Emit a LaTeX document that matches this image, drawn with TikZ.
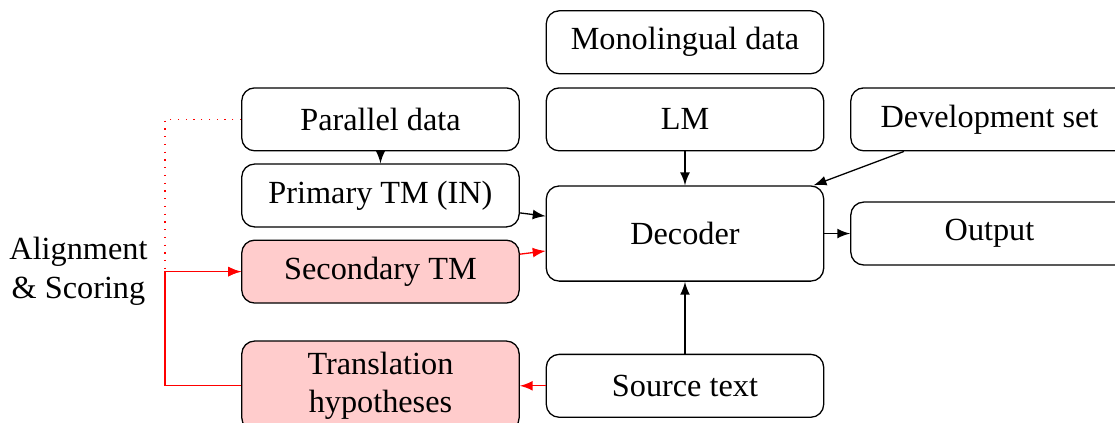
\documentclass[tikz,border=0pt]{standalone}
\usepackage{fontspec}
\setmainfont{Liberation Serif}
\usetikzlibrary{arrows,positioning}

\begin{document}
\begin{tikzpicture}[
	node distance=8pt,
	>=latex,
	kasten/.style={
		draw,
		rounded corners=4pt,
		minimum width=86pt,
		minimum height=19.5pt,
		align=center
	},
	markiert/.style={
		kasten,
		fill=red!20
	},
	pfeil/.style={
		->,
		thin
	},
	rotpfeil/.style={
		pfeil,
		red
	}
]
\useasboundingbox (-212.35pt,-58.7pt) rectangle (133.3pt,72.4pt);

\node[kasten, minimum height=29.5pt] (DEC) {Decoder};

\node[kasten] (LM) [above=10.5pt of DEC] {LM};
\node[kasten] (MONO) [above=4pt of LM] {Monolingual data};
\node[kasten] (DEV) [right=of LM] {Development set};
\node[kasten] (OUT) [right=of DEC] {Output};

\node[kasten] (PAR) [left=of LM] {Parallel data};
\node[kasten] (PRIM) [below=3.7pt of PAR] {Primary TM (IN)};
\node[markiert] (SEC) [below=3.7pt of PRIM] {Secondary TM};

\node[kasten] (SRC) [below=22.3pt of DEC] {Source text};
\node[markiert] (HYP) [left=of SRC] {Translation\\hypotheses};

\node[align=center] (ALIGN) [left=25.5pt of SEC] {Alignment\\\& Scoring};

\coordinate[left=23.6pt of SEC.west] (KNICK);

\draw[pfeil] (LM) -- (DEC);
\draw[pfeil] (DEV) -- (DEC);
\draw[pfeil] (PAR) -- (PRIM);
\draw[pfeil] (PRIM) -- (DEC);
\draw[rotpfeil] (SEC) -- (DEC);
\draw[pfeil] (DEC) -- (OUT);
\draw[pfeil] (SRC) -- (DEC);
\draw[rotpfeil] (SRC) -- (HYP);

% Rueckkopplung der Hypothesen
\draw[rotpfeil, dotted] (PAR.west) -| (KNICK) -- (SEC.west);
\draw[rotpfeil] (HYP.west) -| (KNICK) -- (SEC.west);

\end{tikzpicture}
\end{document}
